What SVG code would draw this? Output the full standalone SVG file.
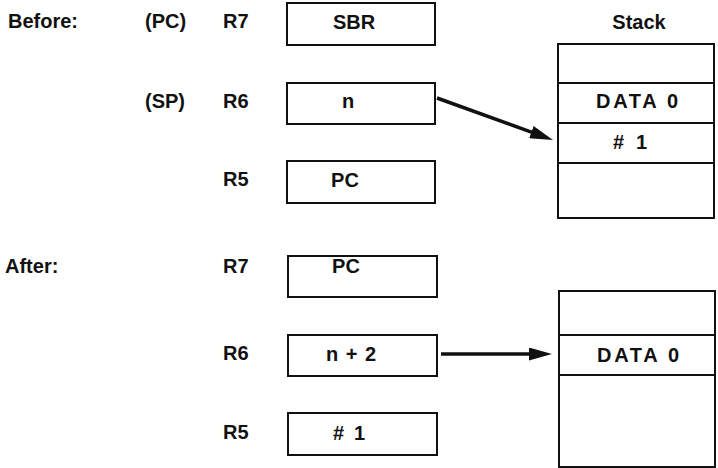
<svg xmlns="http://www.w3.org/2000/svg" width="718" height="468" viewBox="0 0 718 468">
<defs>
<style>
text{font-family:"Liberation Sans",Arial,sans-serif;font-size:20px;font-weight:bold;fill:#111}
.c{text-anchor:middle}
.box{fill:#fff;stroke:#111;stroke-width:2}
.ln{stroke:#111;stroke-width:2;fill:none}
.ar{stroke:#111;stroke-width:3.5;fill:none}
</style>
<marker id="ah" markerWidth="23" markerHeight="13" refX="11" refY="6.5" orient="auto" markerUnits="userSpaceOnUse">
<path d="M0,0 L23,6.5 L0,13 Z" fill="#111"/>
</marker>
</defs>
<rect width="718" height="468" fill="#fff"/>
<g id="labels">
<text x="8" y="28">Before:</text>
<text x="145" y="28">(PC)</text>
<text x="145" y="108">(SP)</text>
<text x="5" y="273">After:</text>
<text x="223" y="28">R7</text>
<text x="223" y="108">R6</text>
<text x="223" y="186">R5</text>
<text x="223" y="273">R7</text>
<text x="223" y="360">R6</text>
<text x="223" y="439">R5</text>
<text class="c" x="639" y="29">Stack</text>
</g>
<g id="before-r7"><rect class="box" x="287" y="3" width="148" height="42"/><text class="c" x="354" y="29">SBR</text></g>
<g id="before-r6"><rect class="box" x="287" y="83" width="148" height="41"/><text class="c" x="348" y="108">n</text></g>
<g id="before-r5"><rect class="box" x="287" y="161" width="148" height="42"/><text class="c" x="345" y="187">PC</text></g>
<g id="before-stack">
<rect class="box" x="558" y="44" width="156" height="174"/>
<line class="ln" x1="558" y1="83" x2="714" y2="83"/>
<line class="ln" x1="558" y1="123" x2="714" y2="123"/>
<line class="ln" x1="558" y1="163" x2="714" y2="163"/>
<text class="c" x="637" y="108" textLength="82" lengthAdjust="spacing">DATA 0</text>
<text class="c" x="630" y="149" textLength="34" lengthAdjust="spacing">#1</text>
</g>
<g id="after-r7"><rect class="box" x="288" y="256" width="149" height="41"/><text class="c" x="346" y="273">PC</text></g>
<g id="after-r6"><rect class="box" x="288" y="335" width="149" height="41"/><text class="c" x="351" y="361" textLength="50" lengthAdjust="spacing">n+2</text></g>
<g id="after-r5"><rect class="box" x="288" y="413" width="149" height="42"/><text class="c" x="349" y="440" textLength="32" lengthAdjust="spacing">#1</text></g>
<g id="after-stack">
<rect class="box" x="559" y="291" width="156" height="176"/>
<line class="ln" x1="559" y1="335" x2="715" y2="335"/>
<line class="ln" x1="559" y1="375" x2="715" y2="375"/>
<text class="c" x="638" y="362" textLength="82" lengthAdjust="spacing">DATA 0</text>
</g>
<g id="connectors">
<line class="ar" x1="437" y1="98" x2="541.7" y2="135.9" marker-end="url(#ah)"/>
<line class="ar" x1="441" y1="354" x2="540" y2="354" marker-end="url(#ah)"/>
</g>
</svg>
